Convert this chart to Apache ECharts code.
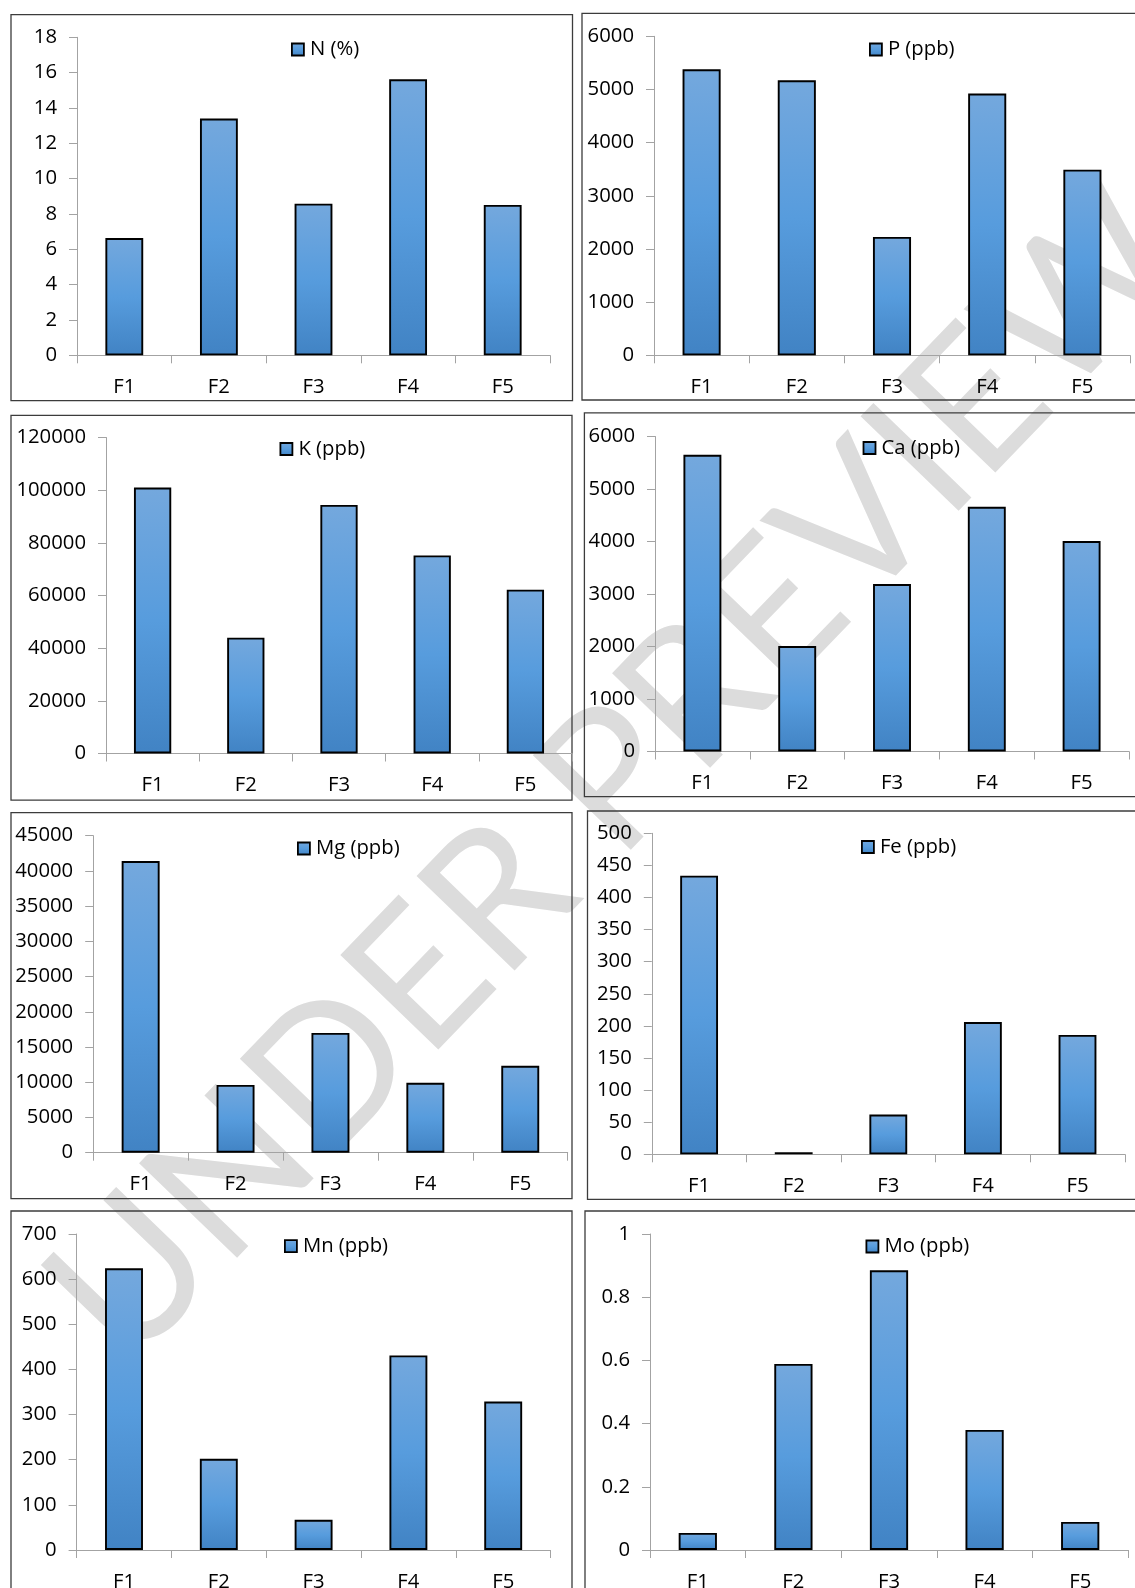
<!DOCTYPE html>
<html>
<head>
<meta charset="utf-8">
<script src="https://cdn.jsdelivr.net/npm/echarts@6/dist/echarts.min.js"></script>
<style>
  html, body { margin: 0; padding: 0; background: #fff; }
  #chart { width: 1135px; height: 1588px; }
</style>
</head>
<body>
<div id="chart"></div>
<script>
// ---- data ----
const categories = ['F1', 'F2', 'F3', 'F4', 'F5'];

const nValues  = [6.64, 13.4, 8.58, 15.62, 8.51];
const pValues  = [5380, 5172, 2226, 4922, 3492];
const kValues  = [101000, 44000, 94400, 75200, 62200];
const caValues = [5650, 2010, 3190, 4660, 4010];
const mgValues = [41400, 9620, 17000, 9930, 12330];
const feValues = [434, 3, 62, 206, 186];
const mnValues = [624, 202, 67, 431, 329];
const moValues = [0.054, 0.589, 0.885, 0.38, 0.089];

const seriesNames = ['N (%)', 'P (ppb)', 'K (ppb)', 'Ca (ppb)', 'Mg (ppb)', 'Fe (ppb)', 'Mn (ppb)', 'Mo (ppb)'];
const seriesValues = [nValues, pValues, kValues, caValues, mgValues, feValues, mnValues, moValues];
const axisMax      = [18, 6000, 120000, 6000, 45000, 500, 700, 1];
const axisInterval = [2, 1000, 20000, 1000, 5000, 50, 100, 0.2];

const watermarkText = 'UNDER PREVIEW';

// ---- layout ----
const grids = [
  { left: 77,   top: 37.3,  width: 473, height: 318 },
  { left: 654,  top: 36.3,  width: 476, height: 319 },
  { left: 106,  top: 437.5, width: 466, height: 316 },
  { left: 655,  top: 436.5, width: 474, height: 315 },
  { left: 93.2, top: 835.7, width: 474.5, height: 317 },
  { left: 651.8,top: 833.3, width: 473, height: 321 },
  { left: 76.6, top: 1234,  width: 474, height: 316 },
  { left: 650,  top: 1234,  width: 478, height: 316 }
];
const legendPos = [
  [291, 39.5], [869, 39.5], [279.5, 439], [862.6, 438],
  [297, 838.5], [861, 837], [284, 1236.2], [865.5, 1236.5]
];
const panels = [
  [11, 14.7, 561.5, 386],
  [582, 13.3, 600, 386.7],
  [11, 415.4, 561, 384.8],
  [584.4, 412.8, 600, 383.8],
  [11, 812.7, 561, 386],
  [587.5, 811, 600, 388.3],
  [11, 1211, 561, 500],
  [585, 1211, 600, 500]
];

const FONT = 'Open Sans';
const FS = 20.3;
const axisColor = '#a3a3a3';

const barGradient = new echarts.graphic.LinearGradient(0, 0, 0, 1, [
  { offset: 0, color: '#74a8dd' },
  { offset: 0.5, color: '#579cdd' },
  { offset: 1, color: '#4183c4' }
]);

const option = {
  animation: false,
  backgroundColor: '#ffffff',
  textStyle: { fontFamily: FONT },
  grid: grids.map(g => Object.assign({ containLabel: false, outerBoundsMode: 'none', show: false }, g)),
  xAxis: grids.map((g, i) => ({
    type: 'category',
    gridIndex: i,
    data: categories,
    boundaryGap: true,
    axisLine: { show: true, lineStyle: { color: axisColor, width: 1 } },
    axisTick: { show: true, length: 8, alignWithLabel: false, lineStyle: { color: axisColor, width: 1 } },
    axisLabel: { show: true, interval: 0, color: '#000', fontSize: FS, fontFamily: FONT, margin: 22 },
    splitLine: { show: false }
  })),
  yAxis: grids.map((g, i) => ({
    type: 'value',
    gridIndex: i,
    min: 0,
    max: axisMax[i],
    interval: axisInterval[i],
    axisLine: { show: true, lineStyle: { color: axisColor, width: 1 } },
    axisTick: { show: true, length: 8, inside: false, lineStyle: { color: axisColor, width: 1 } },
    axisLabel: {
      show: true, color: '#000', fontSize: FS, fontFamily: FONT, margin: 20,
      padding: [3, 0, 0, 0],
      formatter: v => String(+(+v).toFixed(6))
    },
    splitLine: { show: false }
  })),
  legend: seriesNames.map((name, i) => ({
    data: [name],
    left: legendPos[i][0],
    top: legendPos[i][1],
    padding: 0,
    icon: 'rect',
    itemWidth: 12,
    itemHeight: 12,
    itemStyle: { color: barGradient, borderColor: '#000', borderWidth: 1.8 },
    textStyle: { color: '#000', fontSize: FS, fontFamily: FONT, padding: [0, 0, 0, 1] },
    selectedMode: false
  })),
  series: seriesNames.map((name, i) => ({
    type: 'bar',
    name: name,
    xAxisIndex: i,
    yAxisIndex: i,
    data: seriesValues[i],
    barWidth: '40%',
    itemStyle: { color: barGradient, borderColor: '#000', borderWidth: 1.9 },
    emphasis: { disabled: true },
    z: 2
  })),
  graphic: [
    {
      type: 'text',
      x: 618,
      y: 775,
      rotation: 46 * Math.PI / 180,
      z: -10,
      silent: true,
      style: {
        text: watermarkText,
        font: 'normal 190px Lato',
        fill: '#dcdcdc',
        textAlign: 'center',
        textVerticalAlign: 'middle'
      }
    }
  ].concat(panels.map(p => ({
    type: 'rect',
    z: -5,
    silent: true,
    shape: { x: p[0], y: p[1], width: p[2], height: p[3] },
    style: { fill: 'none', stroke: '#3c3c3c', lineWidth: 1.3 }
  })))
};

const chart = echarts.init(document.getElementById('chart'), null, { renderer: 'canvas' });
chart.setOption(option);
</script>
</body>
</html>
